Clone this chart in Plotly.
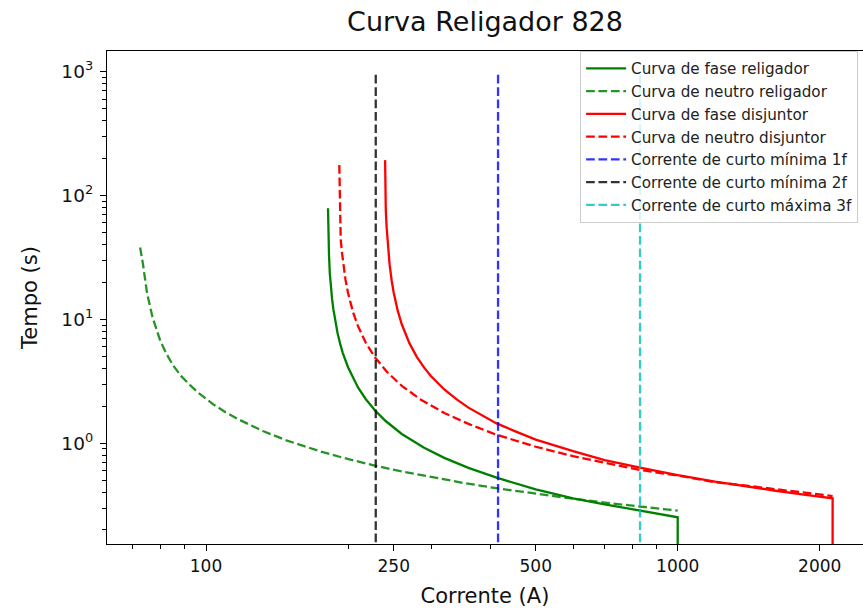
import plotly.graph_objects as go

# ---- data ----
I_fase_rel = [181.4, 181.8, 182.3, 183, 184, 185, 186.2, 187.5, 190, 192.5, 195, 200, 205, 210, 218, 228, 240,
              260, 290, 320, 360, 413, 500, 600, 700, 832, 1000, 1000]
t_fase_rel = [79, 45, 33, 23.5, 17.9, 14.7, 12.1, 10.2, 7.8, 6.34, 5.35, 4.11, 3.34, 2.82, 2.28, 1.85, 1.52,
              1.19, 0.92, 0.763, 0.633, 0.528, 0.424, 0.359, 0.322, 0.285, 0.253, 0.01]

I_neutro_rel = [72.5, 73.5, 75, 77, 80, 82.5, 85, 88.5, 92.5, 97, 103.6, 110, 118, 125, 132, 148, 160, 175,
                195, 228, 260, 300, 350, 413, 500, 600, 700, 832, 1000]
t_neutro_rel = [38, 28.1, 16.2, 10.45, 6.7, 5.25, 4.3, 3.5, 2.95, 2.5, 2.06, 1.78, 1.54, 1.38, 1.256, 1.057, 0.954, 0.858,
                0.765, 0.66, 0.593, 0.533, 0.48, 0.434, 0.391, 0.357, 0.332, 0.308, 0.286]

I_fase_dis = [239.7, 240.1, 240.5, 241.5, 243, 245, 247.5, 250, 255, 260, 270, 280, 290, 300, 320, 340, 360, 385,
              413, 450, 500, 600, 700, 832, 1000, 1200, 1400, 1600, 1850, 2130, 2130]
t_fase_dis = [193, 92, 77, 55.3, 38.8, 27.9, 20.6, 16.4, 11.7, 9.13, 6.4, 4.96, 4.08, 3.48, 2.72, 2.26, 1.94, 1.672,
              1.447, 1.261, 1.072, 0.866, 0.733, 0.635, 0.554, 0.491, 0.448, 0.416, 0.386, 0.36, 0.01]

I_neutro_dis = [191.7, 192.2, 193, 194, 195, 197.5, 200, 205, 210, 218, 228, 242, 260, 285, 320, 360, 413, 500,
                600, 700, 832, 1000, 1200, 1400, 1600, 1850, 2130]
t_neutro_dis = [176, 55.4, 44.4, 35.6, 29.8, 21.1, 16.4, 11.4, 8.82, 6.51, 4.95, 3.76, 2.91, 2.26, 1.757, 1.435, 1.172, 0.938,
                0.787, 0.701, 0.609, 0.549, 0.485, 0.455, 0.426, 0.399, 0.375]

I_curto_1f = 416
I_curto_2f = 229
I_curto_3f = 832
t_vline = [0.01, 1000]

x_tickvals = [100, 250, 500, 1000, 2000]
x_ticktext = ["100", "250", "500", "1000", "2000"]
y_tickvals = [1, 10, 100, 1000]
y_ticktext = ["10<sup>0</sup>", "10<sup>1</sup>", "10<sup>2</sup>", "10<sup>3</sup>"]

FONT = "DejaVu Sans"
LW = 2.3
DASH = "8.7px,3.7px"

fig = go.Figure()
fig.add_trace(go.Scatter(x=I_fase_rel, y=t_fase_rel, mode="lines", name="Curva de fase religador",
                         line=dict(color="green", width=LW)))
fig.add_trace(go.Scatter(x=I_neutro_rel, y=t_neutro_rel, mode="lines", name="Curva de neutro religador",
                         line=dict(color="rgba(0,128,0,0.85)", width=LW, dash=DASH)))
fig.add_trace(go.Scatter(x=I_fase_dis, y=t_fase_dis, mode="lines", name="Curva de fase disjuntor",
                         line=dict(color="#ff0000", width=LW)))
fig.add_trace(go.Scatter(x=I_neutro_dis, y=t_neutro_dis, mode="lines", name="Curva de neutro disjuntor",
                         line=dict(color="#ff0000", width=LW, dash=DASH)))
fig.add_trace(go.Scatter(x=[I_curto_1f, I_curto_1f], y=t_vline, mode="lines", name="Corrente de curto mínima 1f",
                         line=dict(color="rgba(0,0,255,0.8)", width=LW, dash=DASH)))
fig.add_trace(go.Scatter(x=[I_curto_2f, I_curto_2f], y=t_vline, mode="lines", name="Corrente de curto mínima 2f",
                         line=dict(color="rgba(0,0,0,0.8)", width=LW, dash=DASH)))
fig.add_trace(go.Scatter(x=[I_curto_3f, I_curto_3f], y=t_vline, mode="lines", name="Corrente de curto máxima 3f",
                         line=dict(color="rgba(0,191,191,0.8)", width=LW, dash=DASH)))

x_minor = [v * m for v in (10, 100, 1000) for m in range(2, 10)]
y_minor = [v * m for v in (0.1, 1, 10, 100) for m in range(2, 10)]

fig.update_layout(
    width=863, height=613,
    margin=dict(l=107, r=0, t=51, b=69),
    paper_bgcolor="white", plot_bgcolor="white",
    font=dict(family=FONT, color="#111", size=17),
    title=dict(text="Curva Religador 828", x=0.5, xref="paper", xanchor="center",
               y=1 - 22 / 613, yref="container", yanchor="middle",
               font=dict(family=FONT, size=27, color="#111")),
    showlegend=True,
    legend=dict(x=0.9935, y=1.0, xanchor="right", yanchor="top",
                bgcolor="rgba(255,255,255,0.8)", bordercolor="#cccccc", borderwidth=1,
                font=dict(family=FONT, size=15.2, color="#222"),
                itemwidth=40, tracegroupgap=0),
    xaxis=dict(type="log", range=[1.7901, 3.3928],
               tickmode="array", tickvals=x_tickvals, ticktext=x_ticktext,
               ticks="outside", ticklen=6, tickwidth=1.3, tickcolor="black",
               minor=dict(tickmode="array", tickvals=x_minor, ticks="outside", ticklen=3.5,
                          tickwidth=1, tickcolor="black", showgrid=False),
               showgrid=False, zeroline=False, showline=True, linecolor="black", linewidth=1.3,
               mirror=True,
               tickfont=dict(family=FONT, size=17, color="#111"),
               title=dict(text="Corrente (A)", font=dict(family=FONT, size=21, color="#111"), standoff=13)),
    yaxis=dict(type="log", range=[-0.8128, 3.1663],
               tickmode="array", tickvals=y_tickvals, ticktext=y_ticktext,
               ticks="outside", ticklen=6, tickwidth=1.3, tickcolor="black",
               ticklabelstandoff=3,
               minor=dict(tickmode="array", tickvals=y_minor, ticks="outside", ticklen=3.5,
                          tickwidth=1, tickcolor="black", showgrid=False),
               showgrid=False, zeroline=False, showline=True, linecolor="black", linewidth=1.3,
               tickfont=dict(family=FONT, size=18.5, color="#111"),
               title=dict(text="Tempo (s)", font=dict(family=FONT, size=21, color="#111"), standoff=18)),
)

fig.write_html("out.html")
